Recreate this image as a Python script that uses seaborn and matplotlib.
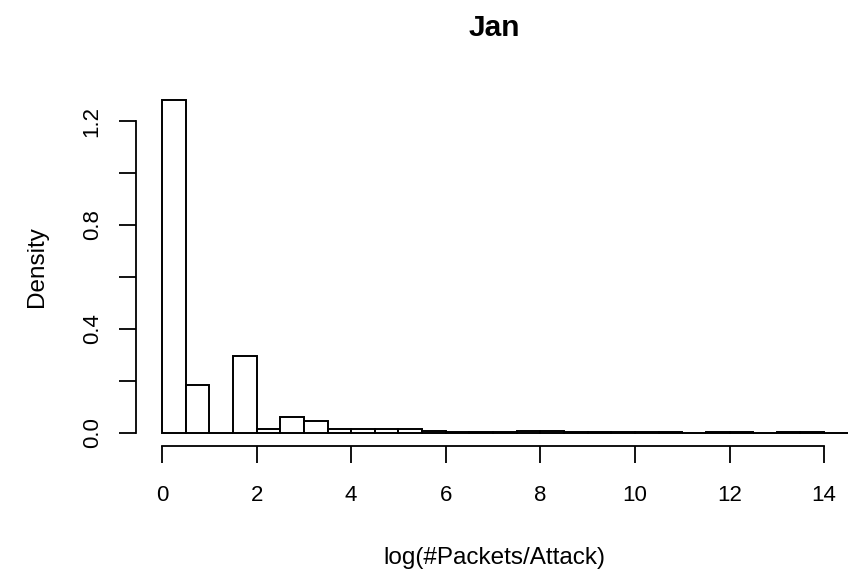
import pandas as pd
import matplotlib
matplotlib.use("Agg")
import matplotlib.pyplot as plt
import seaborn as sns

# Histogram of log packet counts per attack (density scale, 0.5-wide bins from 0)
bin_width = 0.5
bin_lefts = [i * bin_width for i in range(29)]
densities = [
    1.28, 0.185, 0.0, 0.295, 0.017, 0.062, 0.045, 0.016, 0.015, 0.015,
    0.015, 0.008, 0.005, 0.005, 0.005, 0.006, 0.006, 0.005, 0.005, 0.004,
    0.004, 0.004, 0.0, 0.004, 0.004, 0.0, 0.004, 0.004, 0.001,
]
x_ticks = [0, 2, 4, 6, 8, 10, 12, 14]
y_ticks = [0.0, 0.2, 0.4, 0.6, 0.8, 1.0, 1.2]
y_ticklabels = ["0.0", "", "0.4", "", "0.8", "", "1.2"]

sns.set_style("white")
plt.rcParams["font.family"] = ["Liberation Sans", "DejaVu Sans"]
plt.rcParams["text.color"] = "black"
plt.rcParams["axes.labelcolor"] = "black"

fig = plt.figure(figsize=(8.58, 5.70), dpi=100)
ax = fig.add_axes([0.1585, 0.217, 0.8345, 0.6304])

hist_df = pd.DataFrame({
    "value": [b + bin_width / 2 for b in bin_lefts],
    "density": densities,
})
sns.histplot(
    data=hist_df, x="value", weights="density",
    binwidth=bin_width, binrange=(bin_lefts[0], bin_lefts[-1] + bin_width),
    stat="count", color="white", edgecolor="black", linewidth=1.4,
    alpha=1.0, ax=ax,
)

ax.set_xlim(-0.55, 14.59)
ax.set_ylim(-0.051, 1.331)

# Detached, R-style axes
for side in ("top", "right"):
    ax.spines[side].set_visible(False)
ax.spines["left"].set_bounds(0, 1.2)
ax.spines["bottom"].set_bounds(0, 14)
for side in ("left", "bottom"):
    ax.spines[side].set_linewidth(1.3)
    ax.spines[side].set_color("black")

ax.set_xticks(x_ticks)
ax.set_xticklabels([str(t) for t in x_ticks])
ax.set_yticks(y_ticks)
ax.set_yticklabels(y_ticklabels, rotation=90, va="center")
ax.tick_params(axis="both", which="major", direction="out", length=12,
               width=1.3, color="black", labelsize=16, labelcolor="black",
               bottom=True, left=True, top=False, right=False)
ax.tick_params(axis="x", pad=15.5)
ax.tick_params(axis="y", pad=12)

ax.set_xlabel("log(#Packets/Attack)", fontsize=17.5, color="black")
ax.set_ylabel("Density", fontsize=17.5, color="black")
ax.xaxis.set_label_coords(0.5, -0.28)
ax.yaxis.set_label_coords(-0.123, 0.5)
ax.set_title("Jan", fontsize=21.5, fontweight="bold", pad=37, color="black")

fig.savefig("out.png", dpi=100, facecolor="white")
